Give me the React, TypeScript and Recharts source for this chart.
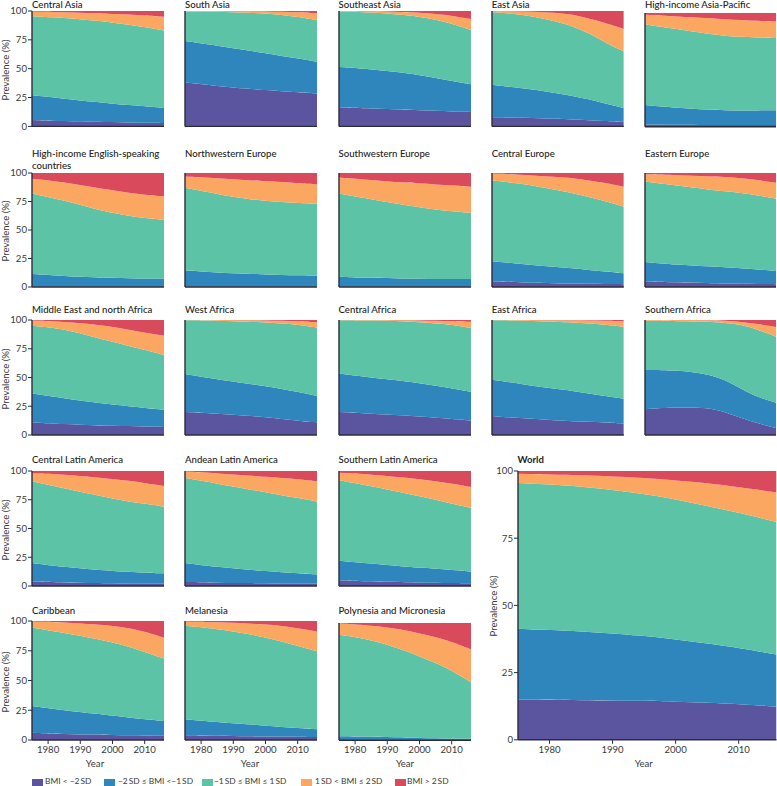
import React from "react";
import { AreaChart, Area, XAxis, YAxis, Label } from "recharts";

const years = [1975, 1985, 1995, 2000, 2005, 2010, 2016];
const xTicks = [1980, 1990, 2000, 2010];
const yTicks = [0, 25, 50, 75, 100];
const seriesNames = ["BMI < \u22122\u2009SD", "\u22122\u2009SD \u2264 BMI <\u22121\u2009SD", "\u22121\u2009SD \u2264 BMI \u2264 1\u2009SD", "1\u2009SD < BMI \u2264 2\u2009SD", "BMI > 2\u2009SD"];
const seriesKeys = ["severe", "moderate", "normal", "over", "obese"];
const seriesColors = ["#5B55A0", "#2E86BC", "#5CC3A6", "#FBA762", "#D94A5D"];

// Upper edge of the four lower bands, in percent, at each of the years above.
const centralAsia = [[5.5,4.5,4,3.8,3.5,3,3],[27,24,21,19.5,18.5,17.5,16],[95.5,94,91.5,90,88,86,83],[99.5,99,98,97.5,97,96,95]];
const southAsia = [[38,35,32.5,31.5,30.5,29.5,28.5],[74,70,65.5,63.5,61,59,56],[99.5,99.5,98.5,98,96.5,95,92],[100,100,99.8,99.7,99.3,99,98]];
const southeastAsia = [[16.5,15.5,14.5,14,13.5,13,12.5],[51.5,49.5,46.5,44.5,42,39.5,36.5],[99.5,99,96.5,95,92.5,89,83.5],[100,99.8,99,98.5,97.5,96,93]];
const eastAsia = [[8,7.5,6.5,6,5.5,4.5,4],[36,33,29,26.5,23.5,20,16],[99,97,91,87,81,73,65],[100,99.8,98.5,97,93.5,90,84.5]];
const highIncomeAsiaPacific = [[2,1.7,1.5,1.5,1.5,1.5,1.5],[19,16.5,15,14.5,14.3,14.3,14.5],[90,86,81.5,80,79,78.5,78],[98.5,97,95.5,94.5,94,93,92.5]];
const highIncomeEnglish = [[0.3,0.3,0.2,0.2,0.2,0.2,0.2],[11.5,9.5,8.5,8,7.7,7.5,7.5],[82,76,68,65,62.5,60.5,59],[95,92,87,85,82.5,81,79.5]];
const northwesternEurope = [[0.3,0.3,0.2,0.2,0.2,0.2,0.2],[14.5,12.5,11.5,11,10.5,10.3,10],[87,81.5,77,75.5,74.5,73.5,73],[97,95.5,93.5,93,92,91,90]];
const southwesternEurope = [[0.3,0.3,0.2,0.2,0.2,0.2,0.2],[9,8,7.5,7.2,7,7,7],[82,77,72,70,68,66.5,65],[96,94,91.5,91,90,89,88]];
const centralEurope = [[5,4,3.3,3,3,2.7,2.5],[22.5,20,17.5,16.5,15,13.5,12],[93.5,90.5,85,82.5,79,75.5,70.5],[99.5,98.5,96.5,95.5,93.5,91.5,88]];
const easternEurope = [[5,4,3.5,3,3,2.7,2.5],[22,19.5,18,17.3,16.5,15.5,14],[92.5,89,85.5,84,82.5,80.5,77.5],[99,98,97,96.5,95.5,94,91.5]];
const middleEastNorthAfrica = [[11,9.5,8.5,8,7.8,7.5,7],[36,32,28,26.5,25,23.5,22],[95,92.5,84.5,81,77.5,74,69.5],[99.5,98.5,96,94,91.5,89,86.5]];
const westAfrica = [[20,18.5,16.5,15.5,14,12.5,11],[53,48.5,44.5,42.5,40,37.5,34],[99.8,99.5,98.5,98,97,96,93.5],[100,100,99.8,99.6,99.3,99,98]];
const centralAfrica = [[20,18.5,17,16,15,14,12.5],[53.5,50,47,45,43,40.5,37.5],[99.8,99.5,99,98,97,96,93],[100,100,99.8,99.7,99.4,99,98.5]];
const eastAfrica = [[16.5,14.5,12.5,12,11.5,11,10],[48,44,40,38.5,36,34,31.5],[99.8,99.5,98.5,98,97,96,94],[100,100,99.8,99.7,99.5,99.3,99]];
const southernAfrica = [[22.5,24.2,24,20,15,10.5,6],[56.5,56.3,53,48,40.5,33,28],[99.3,99,98.5,97.5,96,92,85.5],[100,100,99.8,99.5,98.5,96.5,94]];
const centralLatinAmerica = [[4,3,2.5,2.3,2,2,2],[20,16.5,14,13,12.5,11.5,11],[91,85,79,76,73.5,71.5,69],[98,97,94.5,93,91.5,89.5,87]];
const andeanLatinAmerica = [[3.5,2.8,2.5,2.3,2,2,2],[20,16.5,14,13,12,11,10],[94,89,84,81.5,79,76.5,73.5],[99.5,98,96,95,94,93,91]];
const southernLatinAmerica = [[5,4,3.5,3,2.8,2.5,2.3],[22,19.5,17,16,15,14,12.5],[92,87,81,78,75,71.5,68],[98.5,97,94.5,93,91,89,86]];
const caribbean = [[6,5,4.5,4.2,4,3.8,3.5],[28.5,25,22,20.5,19,17.5,16],[94.5,90,85,82,78.5,74,68.5],[99.5,99,97,96,94,91,86]];
const melanesia = [[4,3.5,3,3,3,2.8,2.5],[17.5,15,13,12,11,10,9],[96,93.5,89,86,83,79,74.5],[99.5,99,98,97,96,94,91]];
const polynesiaMicronesia = [[0.3,0.3,0.3,0.3,0.2,0.2,0.2],[3.5,3,2.5,2,1.8,1.5,1.3],[90,86,77,71.5,66,59.5,49.5],[99.7,98,94.5,91,88,84,77.5]];
const world = [[15,14.7,14.5,14.2,13.8,13.3,12.3],[41.3,40.5,38.7,37.3,35.8,34.2,31.7],[95.5,94.5,91.5,89.5,87,84.5,81],[99,98.5,97.5,96.5,95.5,94,92]];

const FONT = "Lato, sans-serif";
const AXIS = "#2c2c3a";
const TEXT = "#3a3a3a";
const columns = [[32, 164], [185, 317], [338.5, 470.5], [491.7, 623.5], [645, 776]];
const rows = [[11.3, 126.7], [173.3, 287.3], [320, 435], [471, 586], [621, 740]];
const titleY = [4.5, 154, 310, 460, 610.5];
const yearShift = [-3, -1, 0];

function toRows(edges: number[][]) {
  return years.map((year, i) => ({
    year,
    severe: edges[0][i],
    moderate: edges[1][i] - edges[0][i],
    normal: edges[2][i] - edges[1][i],
    over: edges[3][i] - edges[2][i],
    obese: 100 - edges[3][i],
  }));
}

type PanelProps = {
  title: string; edges: number[][]; x0: number; x1: number; y0: number; y1: number; ty: number;
  yLabels?: boolean; xLabels?: boolean; labelX?: number; line2?: string; bold?: boolean; firstRow?: boolean; yearDx?: number;
};

function Panel({ title, line2, edges, x0, x1, y0, y1, ty, yLabels, xLabels, labelX, bold, firstRow, yearDx }: PanelProps) {
  const left = 32;
  const top = 8;
  const bottom = 36;
  const lh = firstRow ? 9 : 11.5;
  return (
    <>
      <div style={{ position: "absolute", left: x0, top: ty - lh / 2, fontSize: 9.6, lineHeight: `${lh}px`, fontFamily: FONT, color: "#222", whiteSpace: "nowrap", fontWeight: bold ? 700 : 500 }}>
        {title}{line2 ? <><br />{line2}</> : null}
      </div>
      <div style={{ position: "absolute", left: x0 - left, top: y0 - top }}>
        <AreaChart width={x1 - x0 + left + 1} height={y1 - y0 + top + bottom} data={toRows(edges)} margin={{ left: 0, right: 1, top, bottom: 0 }} style={{ fontFamily: FONT }}>
          <XAxis dataKey="year" type="number" domain={[1975, 2016]} ticks={xTicks} height={bottom} interval={0} allowDataOverflow
            tick={xLabels ? { fontSize: 9.6, fill: TEXT } : false} tickSize={4} tickMargin={2}
            axisLine={{ stroke: AXIS, strokeWidth: 1.4 }} tickLine={{ stroke: AXIS, strokeWidth: 1 }}>
            {xLabels ? <Label value="Year" position="insideBottom" offset={9} dx={yearDx} style={{ fontSize: 9.6, fill: TEXT, fontFamily: FONT }} /> : null}
          </XAxis>
          <YAxis type="number" domain={[0, 100]} ticks={yTicks} width={left} interval={0}
            tick={yLabels ? { fontSize: 9.6, fill: TEXT } : false} tickSize={4} tickMargin={1}
            axisLine={{ stroke: AXIS, strokeWidth: 1.4 }} tickLine={{ stroke: AXIS, strokeWidth: 1 }} />
          {seriesKeys.map((k, i) => (
            <Area key={k} dataKey={k} name={seriesNames[i]} stackId="a" type="basis" fill={seriesColors[i]} fillOpacity={1} stroke="none" isAnimationActive={false} dot={false} activeDot={false} />
          ))}
        </AreaChart>
      </div>
      {yLabels ? (
        <div style={{ position: "absolute", left: labelX, top: (y0 + y1) / 2 + 1, transform: "translate(-50%,-50%) rotate(-90deg)", fontSize: 9.6, fontFamily: FONT, color: TEXT, whiteSpace: "nowrap" }}>
          Prevalence (%)
        </div>
      ) : null}
    </>
  );
}

const regionGrid = [
  [["Central Asia", centralAsia], ["South Asia", southAsia], ["Southeast Asia", southeastAsia], ["East Asia", eastAsia], ["High-income Asia-Pacific", highIncomeAsiaPacific]],
  [["High-income English-speaking", highIncomeEnglish], ["Northwestern Europe", northwesternEurope], ["Southwestern Europe", southwesternEurope], ["Central Europe", centralEurope], ["Eastern Europe", easternEurope]],
  [["Middle East and north Africa", middleEastNorthAfrica], ["West Africa", westAfrica], ["Central Africa", centralAfrica], ["East Africa", eastAfrica], ["Southern Africa", southernAfrica]],
  [["Central Latin America", centralLatinAmerica], ["Andean Latin America", andeanLatinAmerica], ["Southern Latin America", southernLatinAmerica]],
  [["Caribbean", caribbean], ["Melanesia", melanesia], ["Polynesia and Micronesia", polynesiaMicronesia]],
] as [string, number[][]][][];

const legendBoxX = [32, 104, 201.7, 301, 395];
const legendTextX = [45, 118, 214, 315, 407];

export default function App() {
  return (
    <div style={{ position: "fixed", left: 0, top: 0, width: 777, height: 786, overflow: "hidden", background: "#fff" }}>
      {regionGrid.map((row, r) =>
        row.map(([title, edges], c) => {
          let y0 = rows[r][0];
          if (title === "High-income Asia-Pacific") y0 = 13;
          if (title === "Polynesia and Micronesia") y0 = 622.7;
          return (
            <Panel key={title} title={title} edges={edges} x0={columns[c][0]} x1={columns[c][1]} y0={y0} y1={rows[r][1]} ty={titleY[r]} firstRow={r === 0}
              yLabels={c === 0} xLabels={r === 4} labelX={4.5} yearDx={yearShift[c]} line2={title === "High-income English-speaking" ? "countries" : undefined} />
          );
        })
      )}
      <Panel title="World" edges={world} x0={517.5} x1={776} y0={470.7} y1={739.5} ty={460} yLabels xLabels labelX={492.5} yearDx={-3.5} bold />
      {seriesNames.map((name, i) => (
        <React.Fragment key={name}>
          <span style={{ position: "absolute", left: legendBoxX[i], top: 779, width: 11, height: 7, background: seriesColors[i] }} />
          <span style={{ position: "absolute", left: legendTextX[i], top: 777, lineHeight: "9px", fontFamily: FONT, fontSize: 8.4, color: TEXT, whiteSpace: "nowrap" }}>{name}</span>
        </React.Fragment>
      ))}
    </div>
  );
}
